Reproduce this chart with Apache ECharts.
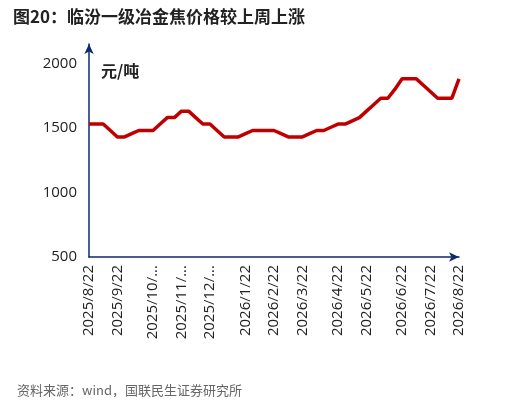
<!DOCTYPE html><html><head><meta charset="utf-8">
<script src="https://cdn.jsdelivr.net/npm/echarts@6/dist/echarts.min.js"></script>
<style>html,body{margin:0;background:#fff}#c{width:517px;height:403px}</style></head><body><div id="c"></div><script>
const prices=[1530,1530,1530,1480,1430,1430,1455,1480,1480,1480,1530,1580,1580,1630,1630,1580,1530,1530,1480,1430,1430,1430,1455,1480,1480,1480,1480,1455,1430,1430,1430,1455,1480,1480,1505,1530,1530,1555,1580,1630,1680,1730,1730,1800,1880,1880,1880,1830,1780,1730,1730,1730,1880];
const tickIdx=[0,4,9,13,17,22,26,30,35,39,44,48,52];
const tickLabels=['2025/8/22','2025/9/22','2025/10/22','2025/11/22','2025/12/22','2026/1/22','2026/2/22','2026/3/22','2026/4/22','2026/5/22','2026/6/22','2026/7/22','2026/8/22'];
const cats=prices.map((_,i)=>'w'+i);
const font='"Noto Sans CJK SC","Open Sans",sans-serif';
const ch=echarts.init(document.getElementById('c'));
ch.setOption({
 animation:false,
 title:[{text:'图20：临汾一级冶金焦价格较上周上涨',left:8,top:3,textStyle:{fontSize:17,fontWeight:'bold',color:'#222',fontFamily:font}},
  {text:'资料来源：wind，国联民生证券研究所',left:12,top:379,textStyle:{fontSize:13,fontWeight:'normal',color:'#666',fontFamily:font}},
  {text:'元/吨',left:96,top:58,textStyle:{fontSize:16,fontWeight:'bold',color:'#222',fontFamily:font}}],
 grid:{left:89,right:58,top:44,bottom:146},
 xAxis:{type:'category',data:cats,boundaryGap:false,
  axisLine:{symbol:['none','arrow'],symbolSize:[7,10],lineStyle:{color:'#0b2a6b',width:1.5}},
  axisTick:{show:false},
  axisLabel:{interval:(i)=>tickIdx.includes(i),rotate:90,fontSize:15,color:'#222',fontFamily:'"Open Sans",sans-serif',width:80,overflow:'truncate',ellipsis:'...',
   formatter:(v,i)=>{const k=tickIdx.indexOf(i);return k>=0?tickLabels[k]:'';}}},
 yAxis:{type:'value',min:500,max:2150,interval:500,splitLine:{show:false},
  axisLine:{show:true,symbol:['none','arrow'],symbolSize:[7,10],lineStyle:{color:'#0b2a6b',width:1.5}},
  axisTick:{show:false},
  axisLabel:{fontSize:15,color:'#222',fontFamily:'"Open Sans",sans-serif',margin:12,formatter:v=>v>2000?'':v}},
 series:[{type:'line',data:prices,symbol:'none',lineStyle:{color:'#c00000',width:3.5}}]
});
</script></body></html>
